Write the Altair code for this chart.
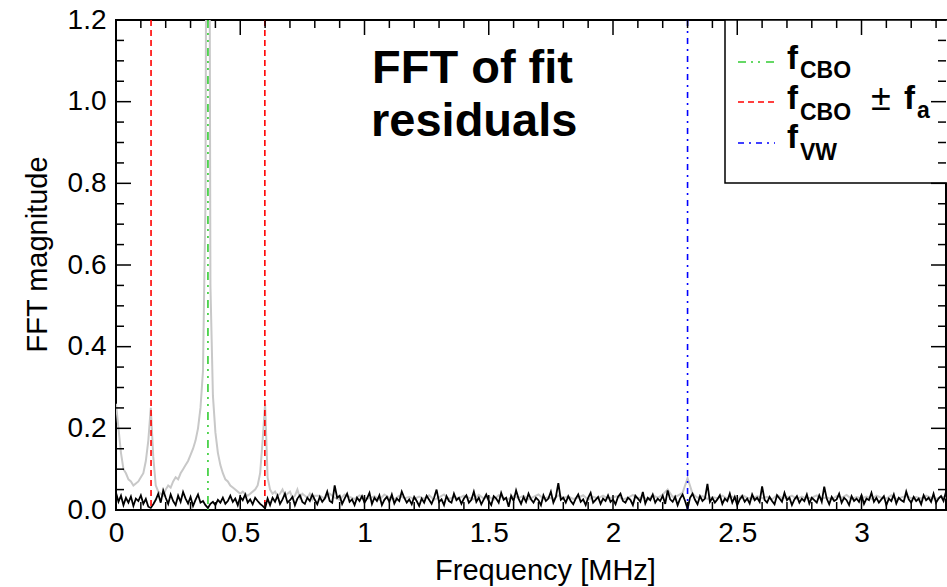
import altair as alt
import pandas as pd
import numpy as np

# ---------------- data ----------------
# black: FFT magnitude of fit residuals, 0.01 MHz grid from 0 to 3.34 MHz (values x1e-3)
black_mag = [
    42, 20, 35, 12, 30, 18, 33, 10, 28, 22, 36, 15, 27, 8, 5, 14, 25, 40, 18, 48,
    30, 15, 38, 22, 12, 35, 20, 44, 28, 16, 32, 10, 25, 38, 18, 22, 12, 5, 15, 20,
    12, 25, 18, 30, 15, 22, 35, 20, 28, 12, 32, 24, 38, 18, 26, 14, 30, 22, 15, 10,
    4, 28, 12, 30, 20, 35, 15, 26, 40, 18, 24, 32, 12, 28, 36, 20, 15, 30, 22, 38,
    25, 14, 32, 20, 28, 45, 22, 18, 60, 30, 35, 15, 28, 40, 20, 26, 12, 30, 22, 34,
    18, 28, 42, 15, 30, 22, 36, 12, 25, 32, 20, 38, 16, 28, 22, 45, 30, 18, 26, 14,
    32, 22, 10, 28, 18, 35, 25, 15, 30, 50, 20, 26, 12, 34, 22, 18, 40, 24, 30, 15,
    28, 36, 18, 25, 45, 20, 30, 14, 26, 38, 22, 12, 34, 28, 18, 42, 25, 30, 8, 35,
    22, 48, 28, 15, 32, 20, 40, 26, 18, 30, 24, 12, 36, 22, 28, 45, 18, 32, 66, 25,
    30, 18, 34, 22, 14, 28, 38, 20, 26, 12, 30, 42, 18, 25, 32, 15, 28, 22, 36, 20,
    26, 14, 32, 40, 22, 18, 30, 25, 12, 35, 28, 20, 44, 16, 30, 24, 38, 18, 28, 22,
    35, 15, 48, 26, 20, 32, 12, 28, 38, 22, 3, 30, 40, 25, 14, 34, 22, 28, 64, 20,
    30, 18, 26, 36, 15, 28, 22, 40, 18, 32, 12, 26, 34, 20, 28, 16, 38, 24, 30, 20,
    58, 25, 18, 32, 22, 14, 36, 28, 20, 42, 24, 30, 12, 26, 34, 18, 28, 22, 38, 16,
    30, 24, 18, 36, 20, 57, 28, 14, 32, 22, 26, 40, 18, 30, 24, 12, 34, 22, 28, 20,
    36, 15, 28, 24, 42, 20, 30, 18, 26, 34, 12, 28, 22, 38, 16, 30, 24, 20, 45, 26,
    18, 32, 22, 28, 14, 36, 24, 30, 20, 40, 18, 28, 34, 22, 45,
]
black_start, black_step = 0.0, 0.01

# gray: FFT magnitude before CBO fit, 0.01 MHz grid from 0 to 0.80 MHz
gray_low = [
    0.26, 0.20, 0.14, 0.10, 0.09, 0.075, 0.07, 0.06, 0.065, 0.07,
    0.08, 0.09, 0.12, 0.17, 0.25, 0.13, 0.06, 0.045, 0.04, 0.035,
    0.05, 0.06, 0.055, 0.07, 0.08, 0.075, 0.09, 0.10, 0.11, 0.12,
    0.135, 0.15, 0.17, 0.20, 0.25, 0.34, 0.75, 3.0, 0.55, 0.28,
    0.19, 0.14, 0.11, 0.09, 0.075, 0.07, 0.06, 0.055, 0.05, 0.045,
    0.04, 0.045, 0.04, 0.035, 0.04, 0.045, 0.05, 0.06, 0.09, 0.17,
    0.26, 0.08, 0.05, 0.04, 0.045, 0.035, 0.04, 0.05, 0.035, 0.04,
    0.045, 0.03, 0.035, 0.05, 0.03, 0.04, 0.035, 0.03, 0.04, 0.025,
    0.035,
]
gray_low_start, gray_low_step = 0.0, 0.01
# gray continued, 0.02 MHz grid from 0.82 to 3.34 MHz (values x1e-3)
gray_high = [
    35, 28, 40, 30, 25, 38, 32, 27, 36, 30,
    28, 34, 25, 38, 30, 26, 35, 29, 32, 27,
    33, 28, 36, 25, 31, 38, 27, 32, 29, 35,
    30, 26, 37, 28, 33, 25, 36, 30, 27, 34,
    29, 35, 26, 32, 38, 28, 31, 27, 36, 30,
    33, 27, 30, 36, 25, 32, 29, 35, 28, 31,
    34, 26, 30, 37, 28, 32, 25, 36, 30, 38,
    50, 32, 35, 42, 78, 40, 30, 34, 27, 32,
    29, 35, 28, 33, 26, 36, 30, 27, 34, 29,
    32, 26, 37, 29, 31, 35, 27, 33, 28, 30,
    36, 28, 31, 26, 34, 30, 37, 27, 32, 29,
    33, 27, 35, 30, 28, 36, 26, 31, 34, 29,
    32, 28, 35, 30, 27, 33, 30,
]
gray_high_start, gray_high_step = 0.82, 0.02

# reference frequencies [MHz]
f_cbo = [0.370]
f_cbo_pm_fa = [0.141, 0.599]
f_vw = [2.30]

# axis ticks
x_major = [0, 0.5, 1, 1.5, 2, 2.5, 3]
x_minor = [0.1, 0.2, 0.3, 0.4, 0.6, 0.7, 0.8, 0.9, 1.1, 1.2, 1.3, 1.4, 1.6, 1.7,
           1.8, 1.9, 2.1, 2.2, 2.3, 2.4, 2.6, 2.7, 2.8, 2.9, 3.1, 3.2, 3.3]
y_major = [0.0, 0.2, 0.4, 0.6, 0.8, 1.0, 1.2]
y_minor = [0.05, 0.1, 0.15, 0.25, 0.3, 0.35, 0.45, 0.5, 0.55, 0.65, 0.7, 0.75,
           0.85, 0.9, 0.95, 1.05, 1.1, 1.15]

# ---------------- tables ----------------
black_df = pd.DataFrame({
    "f": np.round(black_start + np.arange(len(black_mag)) * black_step, 3),
    "m": np.array(black_mag) / 1000.0,
})
gray_df = pd.concat([
    pd.DataFrame({"f": np.round(gray_low_start + np.arange(len(gray_low)) * gray_low_step, 3),
                  "m": gray_low}),
    pd.DataFrame({"f": np.round(gray_high_start + np.arange(len(gray_high)) * gray_high_step, 3),
                  "m": np.array(gray_high) / 1000.0}),
], ignore_index=True)

W, H = 830, 490
FONT = "Liberation Sans"
xs = alt.Scale(domain=[0, 3.34], nice=False, zero=False)
ys = alt.Scale(domain=[0, 1.2], nice=False, zero=False)
one = pd.DataFrame({"a": [0]})

x_axis = alt.Axis(values=x_major, format="~g", ticks=False, tickSize=0, domain=False, grid=False,
                  labelFont=FONT, labelFontSize=28, labelColor="black", labelPadding=9,
                  labelFlush=False, labelOverlap=False,
                  title="Frequency [MHz]", titleFont=FONT, titleFontSize=29, titleFontWeight="normal",
                  titleColor="black", titleX=429, titleY=69, titleAlign="center",
                  titleBaseline="alphabetic")
y_axis = alt.Axis(values=y_major, format=".1f", ticks=False, tickSize=0, domain=False, grid=False,
                  labelFont=FONT, labelFontSize=28, labelColor="black", labelPadding=10,
                  labelFlush=False, labelOverlap=False,
                  title="FFT magnitude", titleFont=FONT, titleFontSize=29, titleFontWeight="normal",
                  titleColor="black", titleX=-70, titleY=234, titleAlign="center",
                  titleAngle=270, titleBaseline="alphabetic")


def X():
    return alt.X("f:Q", scale=xs, axis=x_axis)


def Y():
    return alt.Y("m:Q", scale=ys, axis=y_axis)


gray = alt.Chart(gray_df).mark_line(color="#c8c8c8", strokeWidth=2, clip=True).encode(x=X(), y=Y())
black = alt.Chart(black_df).mark_line(color="black", strokeWidth=1.8, clip=True).encode(x=X(), y=Y())

GREEN, RED, BLUE = "#33cc33", "#ff0000", "#0000ff"
DASH_G = [8, 5, 2, 5, 2, 6]
DASH_R = [6, 4]
DASH_B = [6, 5, 2, 5]


def vlines(vals, color, dash):
    return alt.Chart(pd.DataFrame({"f": vals})).mark_rule(
        color=color, strokeDash=dash, strokeWidth=1.6).encode(x=X())


def txt(s, x, y, size, bold=True):
    return alt.Chart(one).mark_text(
        text=s, font=FONT, fontSize=size, fontWeight="bold" if bold else "normal",
        align="left", baseline="alphabetic", color="black").encode(
        x=alt.value(x), y=alt.value(y))


def sample(y, color, dash):
    return alt.Chart(one).mark_rule(color=color, strokeDash=dash, strokeWidth=1.6).encode(
        x=alt.value(622), x2=alt.value(659), y=alt.value(y))


legend_box = alt.Chart(one).mark_rect(fill="white", stroke="black", strokeWidth=1.5).encode(
    x=alt.value(609), x2=alt.value(840), y=alt.value(0), y2=alt.value(163))


def yticks(vals, length):
    d = pd.DataFrame({"m": vals})
    left = alt.Chart(d).mark_rule(color="black", strokeWidth=1.5).encode(
        y=Y(), x=alt.value(0), x2=alt.value(length))
    right = alt.Chart(d).mark_rule(color="black", strokeWidth=1.5).encode(
        y=Y(), x=alt.value(W), x2=alt.value(W - length))
    return [left, right]


def xticks(vals, length):
    d = pd.DataFrame({"f": vals})
    bottom = alt.Chart(d).mark_rule(color="black", strokeWidth=1.5).encode(
        x=X(), y=alt.value(H), y2=alt.value(H - length))
    top = alt.Chart(d).mark_rule(color="black", strokeWidth=1.5).encode(
        x=X(), y=alt.value(0), y2=alt.value(length))
    return [bottom, top]


layers = [
    gray, black,
    vlines(f_cbo_pm_fa, RED, DASH_R),
    vlines(f_cbo, GREEN, DASH_G),
    vlines(f_vw, BLUE, DASH_B),
    legend_box,
    sample(42, GREEN, DASH_G),
    sample(82, RED, DASH_R),
    sample(123, BLUE, DASH_B),
    txt("f", 671, 49, 33), txt("CBO", 684, 58, 23),
    txt("f", 671, 89, 33), txt("CBO", 684, 100, 23),
    txt("\u00b1", 755, 90, 36, bold=False),
    txt("f", 788, 89, 33), txt("a", 801, 98, 23),
    txt("f", 671, 128, 33), txt("VW", 684, 140, 23),
    txt("FFT of fit", 256, 63, 47), txt("residuals", 255, 116, 47),
]
layers += yticks(y_major, 15) + yticks(y_minor, 8) + xticks(x_major, 15) + xticks(x_minor, 8)

chart = alt.layer(*layers).properties(
    width=W, height=H,
    autosize=alt.AutoSizeParams(type="none"),
    padding={"left": 116, "top": 20, "right": 1, "bottom": 77},
    background="white",
).configure_view(stroke="black", strokeWidth=2)

chart.save("out.html", embed_options={"renderer": "svg", "actions": False})
